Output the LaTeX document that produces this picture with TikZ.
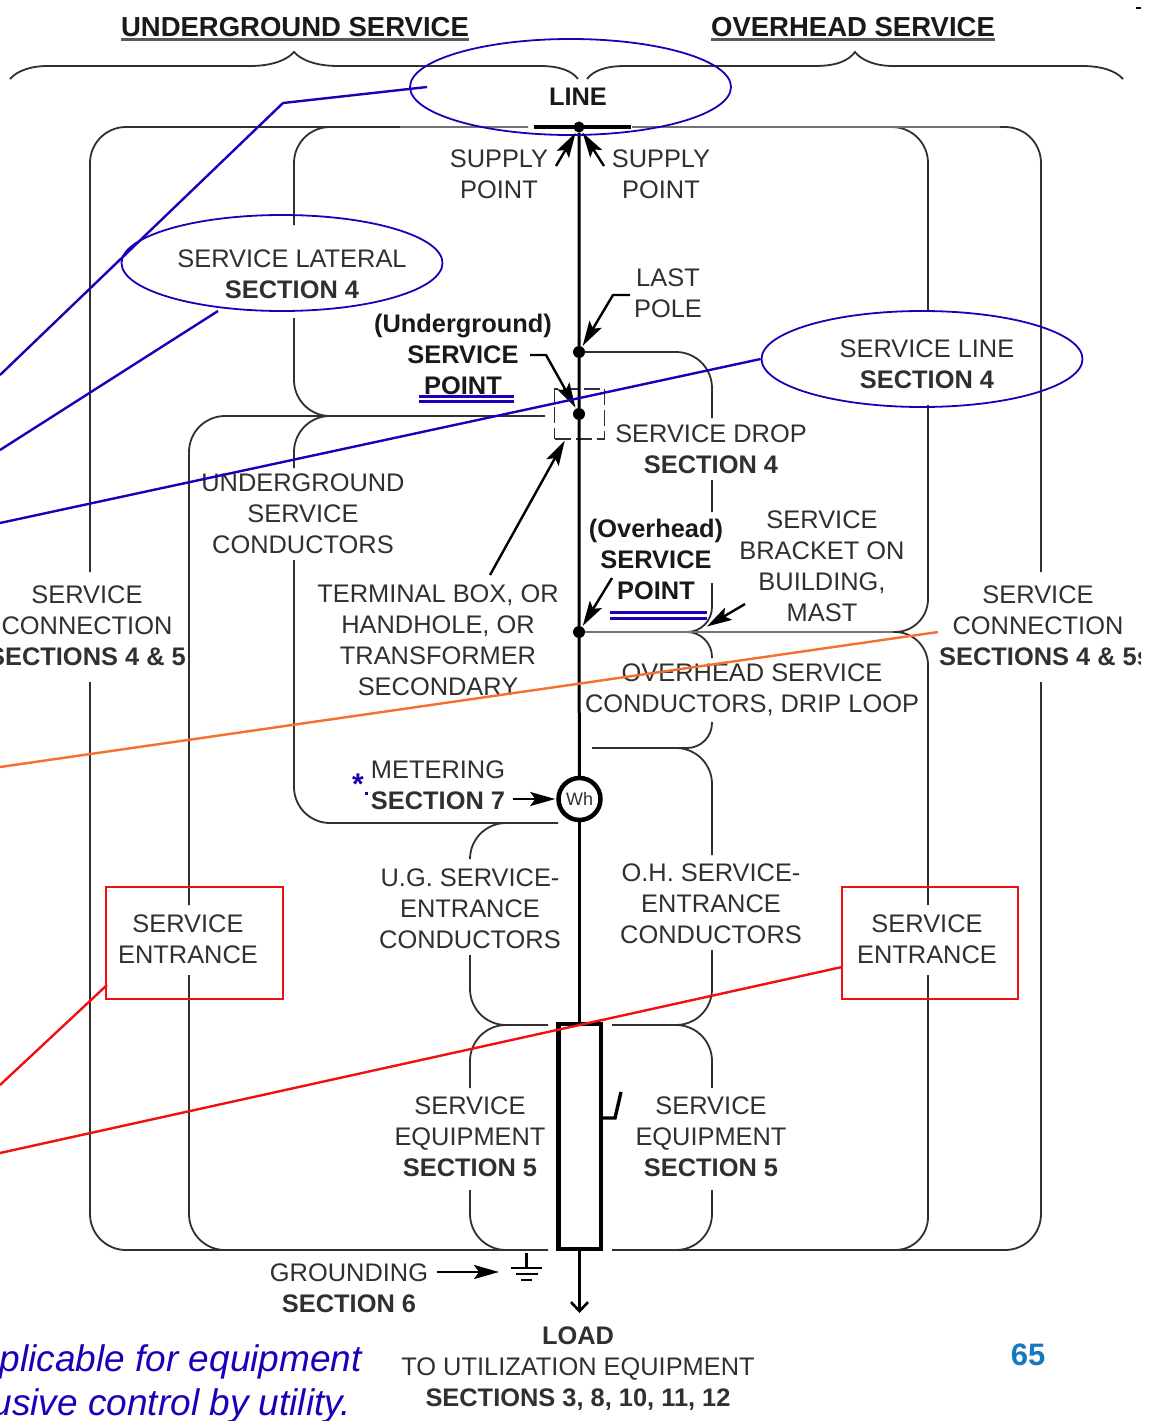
\documentclass[tikz,border=0pt]{standalone}
\usepackage{fontspec}
\setmainfont{Liberation Sans}
\usetikzlibrary{arrows.meta,calc,positioning,shapes.geometric}
\definecolor{inkgray}{HTML}{303030}
\definecolor{markblue}{HTML}{1C00B8}
\definecolor{markorange}{HTML}{F4702C}
\definecolor{markred}{HTML}{F01010}
\definecolor{pageblue}{HTML}{1479BE}
\tikzset{
	lbl/.style={inner sep=0pt,align=center,text=inkgray,font=\fontsize{25.4}{31}\selectfont},
	blbl/.style={lbl,text=black!90,font=\fontsize{25.4}{31}\selectfont\bfseries},
	brk/.style={draw=inkgray,line width=1.8pt,rounded corners=36pt},
	brksmall/.style={brk,rounded corners=25pt},
	fadedbrk/.style={draw=black!55,line width=2.8pt},
	bus/.style={draw=black,line width=3pt},
	jdot/.style={circle,fill=black,inner sep=0pt,minimum size=12pt},
	tipline/.style={draw=black,line width=2.4pt,-{Stealth[length=25pt,width=14pt,inset=5pt]},shorten >=1pt},
	oval/.style={ellipse,draw=markblue,line width=1.8pt,minimum width=321pt,minimum height=96pt,inner sep=0pt},
	redbox/.style={rectangle,draw=markred,line width=1.6pt,inner sep=0pt},
	leader/.style={line width=2.4pt},
	heading/.style={blbl,font=\fontsize{27.5}{31}\selectfont\bfseries}
}
\begin{document}
\begin{tikzpicture}[x=1pt,y=-1pt]
	\useasboundingbox (0,0) rectangle (1153,1421);
	\fill[white] (0,0) rectangle (1153,1421);

	\draw[inkgray,line width=1.8pt] (10,79) .. controls (17,71) and (30,66) .. (48,66) -- (250,66) .. controls (272,66) and (287,60) .. (294,52) .. controls (301,60) and (316,66) .. (338,66) -- (540,66) .. controls (560,66) and (572,71) .. (578,79);
	\draw[inkgray,line width=1.8pt] (587,79) .. controls (593,71) and (605,66) .. (625,66) -- (815,66) .. controls (838,66) and (849,60) .. (855,52) .. controls (861,60) and (875,66) .. (893,66) -- (1082,66) .. controls (1102,66) and (1116,71) .. (1123,79);

	\draw[brk] (528,127) -- (90,127) -- (90,572) (90,682) -- (90,1250) -- (548,1250);
	\draw[brk] (612,1250) -- (1041,1250) -- (1041,682) (1041,572) -- (1041,127) -- (632,127);
	\draw[brk] (340,127) -- (294,127) -- (294,225) (294,318) -- (294,416) -- (335,416);
	\draw[brk] (335,416) -- (294,416) -- (294,468) (294,560) -- (294,823) -- (558,823);
	\draw[brk] (545,416) -- (189,416) -- (189,905) (189,975) -- (189,1250) -- (240,1250);
	\draw[brk] (510,823) -- (470,823) -- (470,858) (470,955) -- (470,1025) -- (548,1025);
	\draw[brk] (510,1025) -- (470,1025) -- (470,1088) (470,1190) -- (470,1250) -- (515,1250);
	\draw[brk] (585,352) -- (712,352) -- (712,418) (712,480) -- (712,512);
	\draw[brksmall] (712,583) -- (712,632) -- (680,632);
	\draw[brksmall] (680,632) -- (712,632) -- (712,658);
	\draw[brksmall] (712,722) -- (712,748) -- (592,748);
	\draw[brk] (680,748) -- (712,748) -- (712,855) (712,950) -- (712,1025) -- (612,1025);
	\draw[brk] (675,1025) -- (712,1025) -- (712,1088) (712,1190) -- (712,1250) -- (675,1250);
	\draw[brk,rounded corners=33pt] (585,632) -- (928,632) -- (928,405);
	\draw[brk,rounded corners=33pt] (890,632) -- (928,632) -- (928,905) (928,975) -- (928,1250) -- (885,1250);
	\draw[brk] (885,127) -- (928,127) -- (928,312);
	\draw[fadedbrk] (585,632) -- (893,632);
	\draw[fadedbrk] (632,127) -- (1000,127);
	\draw[fadedbrk] (400,127) -- (528,127);

	\node[heading] (ughead) at (295,27) {UNDERGROUND SERVICE};
	\node[heading] (ohhead) at (853,27) {OVERHEAD SERVICE};
	\draw[black!65,line width=3pt] ($(ughead.south west)+(0,3)$) -- ($(ughead.south east)+(0,3)$);
	\draw[black!65,line width=3pt] ($(ohhead.south west)+(0,3)$) -- ($(ohhead.south east)+(0,3)$);

	\node[jdot,minimum size=11pt] (linedot) at (579,127) {};
	\node[jdot] (poledot) at (579,352) {};
	\node[jdot] (ugdot) at (579,414) {};
	\node[jdot] (ohdot) at (579,632) {};
	\node[circle,draw=black,fill=white,line width=4.5pt,minimum size=42pt,inner sep=0pt,font=\fontsize{18}{18}\selectfont,text=inkgray] (meter) at (579.5,799) {Wh};
	\node[rectangle,draw=black,line width=4.5pt,minimum width=42.5pt,minimum height=225pt,inner sep=0pt] (panel) at (579.5,1136.5) {};
	\node[rectangle,draw=inkgray,line width=1.5pt,dash pattern=on 16pt off 5pt,minimum width=50pt,minimum height=50pt,inner sep=0pt] (dashbox) at (579.5,414) {};
	\coordinate (loadend) at (579.5,1313);

	\draw[black,line width=4.5pt] (534,127) -- (631,127);
	\draw[bus] (linedot) -- (poledot) -- (ugdot) -- (ohdot) -- (meter);
	\draw[bus] (meter) -- (panel.north);
	\draw[black,line width=2.6pt,-{Straight Barb[length=9pt,width=17pt]}] (panel.south) -- (loadend);
	\draw[black,line width=3.4pt] (602,1118) -- (615,1118) -- (621,1092);

	\node[oval] (lineoval) at (570.5,87) {};
	\node[oval] (lateraloval) at (282,263) {};
	\node[oval] (lineserviceoval) at (922,359) {};
	\node[blbl] (linelbl) at (578,97) {LINE};
	\node[lbl] (supleft) at (499,174) {SUPPLY\\POINT};
	\node[lbl] (supright) at (661,174) {SUPPLY\\POINT};
	\node[lbl] (lastpole) at (668,293) {LAST\\POLE};
	\node[lbl] (lateral) at (292,274) {SERVICE LATERAL\\\textbf{SECTION 4}};
	\node[lbl] (servline) at (927,364) {SERVICE LINE\\\textbf{SECTION 4}};
	\node[blbl] (ugpoint) at (463,354) {(Underground)\\SERVICE\\POINT};
	\node[blbl] (ohpoint) at (656,559) {(Overhead)\\SERVICE\\POINT};
	\node[lbl] (servdrop) at (711,449) {SERVICE DROP\\\textbf{SECTION 4}};
	\node[lbl] (ugcond) at (303,514) {UNDERGROUND\\SERVICE\\CONDUCTORS};
	\node[lbl] (terminal) at (438,640) {TERMINAL BOX, OR\\HANDHOLE, OR\\TRANSFORMER\\SECONDARY};
	\node[lbl] (bracket) at (822,566) {SERVICE\\BRACKET ON\\BUILDING,\\MAST};
	\node[lbl] (connleft) at (87,626) {SERVICE\\CONNECTION\\\textbf{SECTIONS 4 \& 5}};
	\begin{scope}
		\clip (0,0) rectangle (1140,1421);
		\node[lbl] (connright) at (1038,626) {SERVICE\\CONNECTION\\\textbf{SECTIONS 4 \& 5\rlap{s}}};
	\end{scope}
	\node[lbl] (ohcond) at (752,690) {OVERHEAD SERVICE\\CONDUCTORS, DRIP LOOP};
	\node[lbl] (metering) at (438,785) {METERING\\\textbf{SECTION 7}};
	\node[lbl] (ugent) at (470,909) {U.G. SERVICE-\\ENTRANCE\\CONDUCTORS};
	\node[lbl] (ohent) at (711,904) {O.H. SERVICE-\\ENTRANCE\\CONDUCTORS};
	\node[lbl] (entleft) at (188,939) {SERVICE\\ENTRANCE};
	\node[lbl] (entright) at (927,939) {SERVICE\\ENTRANCE};
	\node[lbl] (equipleft) at (470,1137) {SERVICE\\EQUIPMENT\\\textbf{SECTION 5}};
	\node[lbl] (equipright) at (711,1137) {SERVICE\\EQUIPMENT\\\textbf{SECTION 5}};
	\node[lbl] (grounding) at (349,1288) {GROUNDING\\\textbf{SECTION 6}};
	\node[lbl] (load) at (578,1369) {\textbf{LOAD}\\TO UTILIZATION EQUIPMENT\\\textbf{SECTIONS 3, 8, 10, 11, 12}};
	\node[lbl,text=pageblue,font=\fontsize{31}{31}\selectfont\bfseries] (pagenum) at (1028,1355) {65};
	\node[lbl,anchor=east,text=markblue,font=\fontsize{37}{44}\selectfont\itshape] (noteone) at (362,1362) {plicable for equipment};
	\node[lbl,anchor=east,text=markblue,font=\fontsize{37}{44}\selectfont\itshape] (notetwo) at (351,1406) {usive control by utility.};
	\node[lbl,text=markblue,font=\fontsize{30}{30}\selectfont\bfseries] (starmark) at (358,784) {*};
	\node[rectangle,fill=markblue,minimum width=3pt,minimum height=3pt,inner sep=0pt] (dotmark) at (366,793) {};
	\node[rectangle,fill=black,minimum width=5pt,minimum height=1.5pt,inner sep=0pt] (cornermark) at (1138,8) {};

	\node[redbox,minimum width=177pt,minimum height=112pt] (boxleft) at (194.5,943) {};
	\node[redbox,minimum width=176pt,minimum height=112pt] (boxright) at (930,943) {};

	\coordinate (supleftend) at (556,166);
	\coordinate (suprightend) at (604,166);
	\coordinate (poleend) at (630,295);
	\coordinate (ugend) at (530,355);
	\coordinate (termend) at (490,575);
	\coordinate (ohend) at (612,578);
	\coordinate (bracketend) at (745,604);
	\coordinate (bracketdot) at (706,627);
	\coordinate (meterend) at (513,799);
	\coordinate (groundend) at (437,1272);
	\coordinate (groundtip) at (500,1272);
	\draw[tipline] (supleftend) -- (linedot);
	\draw[tipline] (suprightend) -- (linedot);
	\draw[tipline] (poleend) -- ++(-17,0) -- (poledot);
	\draw[tipline] (ugend) -- ++(16,0) -- (ugdot);
	\draw[tipline] (termend) -- (dashbox);
	\draw[tipline] (ohend) -- (ohdot);
	\draw[tipline] (bracketend) -- (bracketdot);
	\draw[tipline] (meterend) -- (meter);
	\draw[tipline] (groundend) -- (groundtip);

	\coordinate (gndtop) at (526.5,1253);
	\coordinate (gndbar) at (526.5,1268);
	\draw[black,line width=2.2pt] (gndtop) -- (gndbar) (511,1268) -- (542,1268) (516,1274) -- (538,1274) (521,1280) -- (532,1280);

	\draw[markblue,line width=3pt] (419,396) -- (514,396) (419,401) -- (514,401);
	\draw[markblue,line width=3pt] (610,612.5) -- (707,612.5) (610,618) -- (707,618);

	\coordinate (lineat) at (427,87);
	\coordinate (linebend) at (283,103);
	\coordinate (lineout) at (0,375);
	\coordinate (lateralat) at (218,311);
	\coordinate (lateralout) at (0,450);
	\coordinate (servlineout) at (0,523);
	\coordinate (connat) at (938,632);
	\coordinate (connout) at (0,767);
	\coordinate (entleftat) at (107,985);
	\coordinate (entleftout) at (0,1085);
	\coordinate (entrightat) at (842,967);
	\coordinate (entrightout) at (0,1153);
	\draw[markblue,leader] (lineat) -- (linebend) -- (lineout);
	\draw[markblue,leader] (lateralat) -- (lateralout);
	\draw[markblue,leader] (lineserviceoval.west) -- (servlineout);
	\draw[markorange,leader] (connat) -- (connout);
	\draw[markred,leader] (entleftat) -- (entleftout);
	\draw[markred,leader] (entrightat) -- (entrightout);
\end{tikzpicture}
\end{document}
